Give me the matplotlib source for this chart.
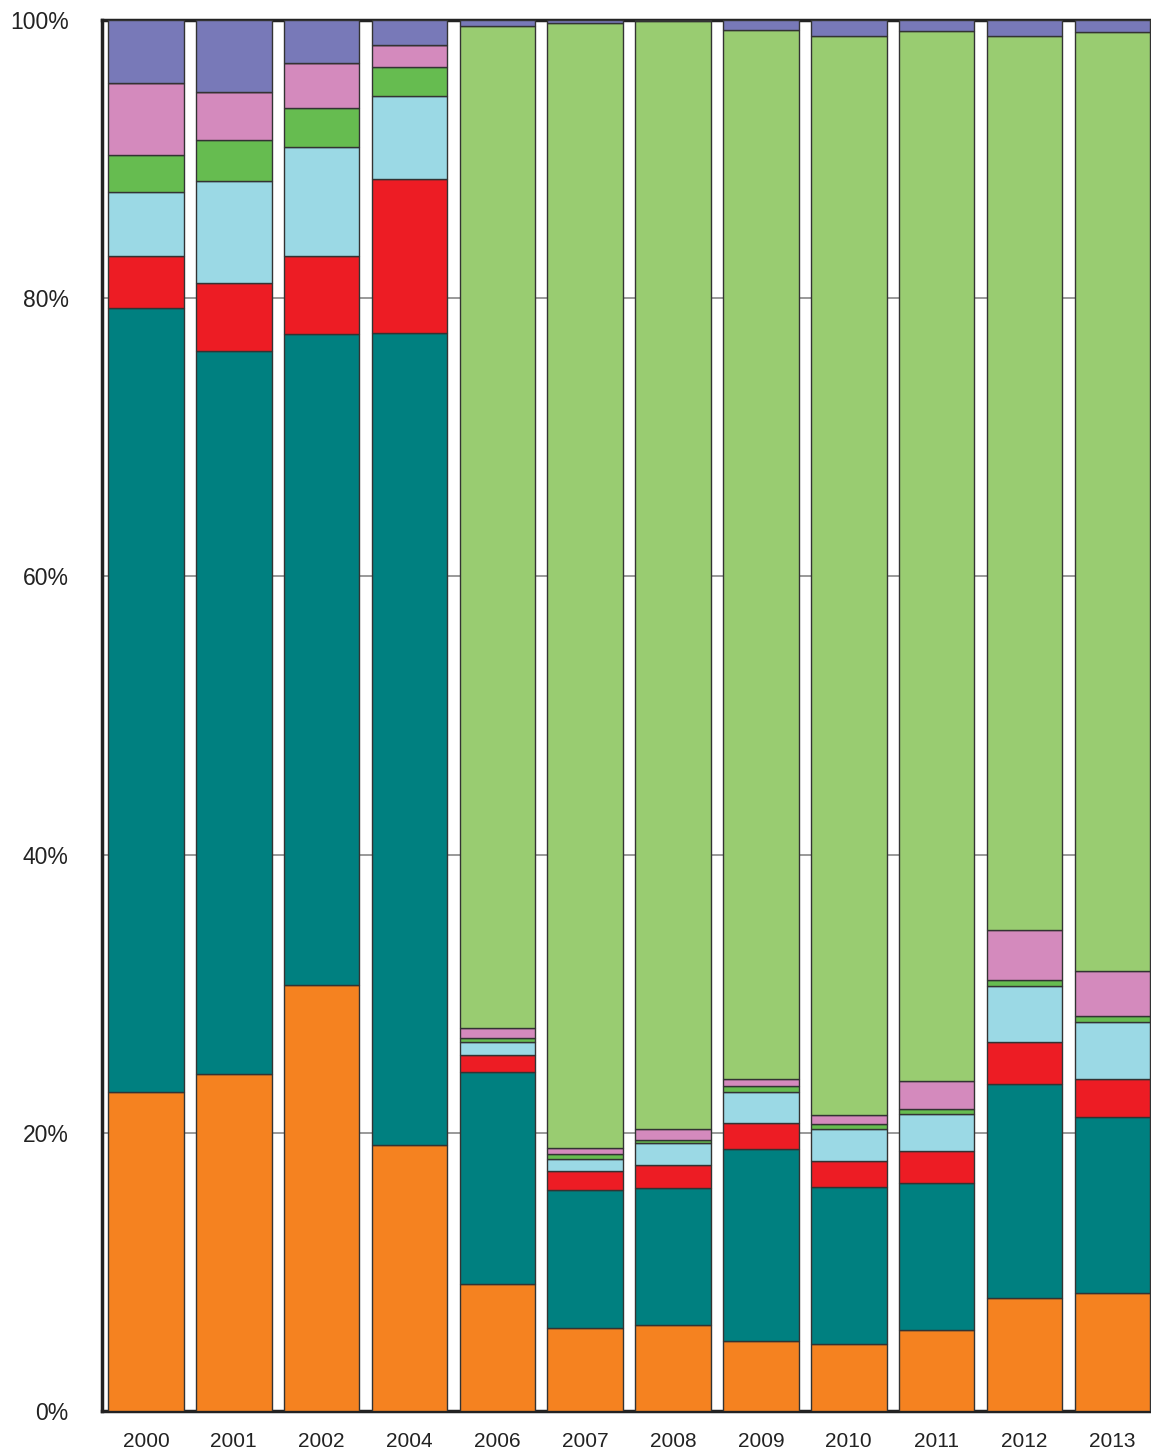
import numpy as np
import matplotlib.pyplot as plt

years = ['2000', '2001', '2002', '2004', '2006', '2007', '2008', '2009', '2010', '2011', '2012', '2013']

# shares in percent, bottom to top
orange = [22.9, 24.2, 30.6, 19.1, 9.1, 6.0, 6.2, 5.0, 4.8, 5.8, 8.1, 8.5]
teal = [56.4, 52.0, 46.8, 58.4, 15.3, 9.9, 9.8, 13.8, 11.3, 10.6, 15.4, 12.6]
red = [3.7, 4.9, 5.6, 11.1, 1.2, 1.35, 1.7, 1.9, 1.9, 2.3, 3.0, 2.8]
lightblue = [4.6, 7.3, 7.9, 5.9, 0.9, 0.85, 1.6, 2.2, 2.3, 2.65, 4.05, 4.1]
green = [2.7, 3.0, 2.8, 2.1, 0.3, 0.4, 0.2, 0.5, 0.3, 0.35, 0.45, 0.4]
pink = [5.2, 3.4, 3.2, 1.6, 0.7, 0.4, 0.8, 0.5, 0.7, 2.0, 3.6, 3.2]
lightgreen = [0, 0, 0, 0, 72.1, 80.9, 79.6, 75.4, 77.55, 75.5, 64.25, 67.5]
purple = [4.5, 5.2, 3.1, 1.8, 0.4, 0.2, 0.1, 0.7, 1.15, 0.8, 1.15, 0.9]

series = [orange, teal, red, lightblue, green, pink, lightgreen, purple]
colors = ['#F58220', '#008080', '#ED1C24', '#9BD9E5', '#66BC50', '#D48ABD', '#99CC71', '#7879B8']

plt.rcParams['font.family'] = ['Liberation Sans', 'DejaVu Sans']

fig = plt.figure(figsize=(11.51, 14.56), dpi=100)
ax = fig.add_axes([0.0886, 0.0309, 0.9114, 0.9554])

x = np.arange(len(years))
bottom = np.zeros(len(years))
for vals, c in zip(series, colors):
    vals = np.array(vals, dtype=float)
    ax.bar(x, vals, bottom=bottom, width=0.86, color=c, edgecolor='#333333', linewidth=1.0, zorder=3)
    bottom += vals

ax.set_xlim(-0.5, len(years) - 0.56)
ax.set_ylim(0, 100)
ax.set_yticks([0, 20, 40, 60, 80, 100])
ax.set_yticklabels(['0%', '20%', '40%', '60%', '80%', '100%'])
ax.set_xticks(x)
ax.set_xticklabels(years)
ax.tick_params(axis='y', length=0, pad=24, labelsize=16.5, labelcolor='#222222')
ax.tick_params(axis='x', length=0, pad=15, labelsize=15, labelcolor='#222222')
ax.grid(axis='y', color='#888888', linewidth=1.2, zorder=0)
ax.set_axisbelow(True)

for s in ['left', 'top', 'bottom']:
    ax.spines[s].set_linewidth(2.5)
    ax.spines[s].set_color('#222222')
ax.spines['right'].set_visible(False)

fig.savefig('out.png', dpi=100)
